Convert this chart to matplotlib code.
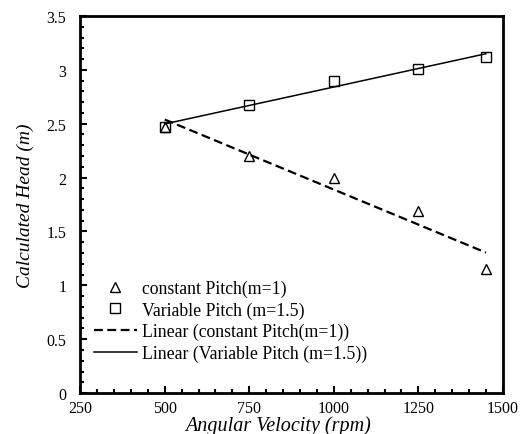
import numpy as np
import matplotlib.pyplot as plt
from matplotlib.ticker import MultipleLocator

speed = [500, 750, 1000, 1250, 1450]
head_constant = [2.47, 2.2, 2.0, 1.69, 1.15]
head_variable = [2.47, 2.67, 2.9, 3.01, 3.12]
y_ticks = [0, 0.5, 1, 1.5, 2, 2.5, 3, 3.5]
y_tick_labels = ['0', '0.5', '1', '1.5', '2', '2.5', '3', '3.5']

plt.rcParams['font.family'] = ['Liberation Serif', 'DejaVu Serif']

fig = plt.figure(figsize=(5.31, 4.35), dpi=100)
ax = fig.add_axes([0.151, 0.094, 0.796, 0.867])

ax.plot(speed, head_constant, linestyle='none', marker='^', markersize=7.5,
        markerfacecolor='none', markeredgecolor='black', markeredgewidth=1.0,
        label='constant Pitch(m=1)')
ax.plot(speed, head_variable, linestyle='none', marker='s', markersize=7.5,
        markerfacecolor='none', markeredgecolor='black', markeredgewidth=1.0,
        label='Variable Pitch (m=1.5)')

# linear trend lines
xs = np.array([speed[0], speed[-1]])
k1, b1 = np.polyfit(speed, head_constant, 1)
k2, b2 = np.polyfit(speed, head_variable, 1)
ax.plot(xs, k1 * xs + b1, color='black', linestyle=(0, (4, 2)), linewidth=1.6,
        label='Linear (constant Pitch(m=1))')
ax.plot(xs, k2 * xs + b2, color='black', linewidth=1.1,
        label='Linear (Variable Pitch (m=1.5))')

ax.set_xlim(250, 1500)
ax.set_ylim(0, 3.5)
ax.xaxis.set_major_locator(MultipleLocator(250))
ax.xaxis.set_minor_locator(MultipleLocator(50))
ax.set_yticks(y_ticks)
ax.set_yticklabels(y_tick_labels)
ax.yaxis.set_minor_locator(MultipleLocator(0.1))
ax.tick_params(which='both', direction='in', width=1.5, labelsize=11.5)
ax.tick_params(which='major', length=5)
ax.tick_params(which='minor', length=3)
ax.tick_params(axis='x', pad=5)
ax.tick_params(axis='y', pad=10)
for s in ax.spines.values():
    s.set_linewidth(2)

ax.set_xlabel('Angular Velocity (rpm)', fontsize=14.5, fontstyle='italic')
ax.xaxis.set_label_coords(0.467, -0.06)
ax.set_ylabel('Calculated Head (m)', fontsize=14, fontstyle='italic')
ax.yaxis.set_label_coords(-0.109, 0.5)

ax.legend(loc='lower left', bbox_to_anchor=(-0.005, 0.04), frameon=False,
          fontsize=12.75, handlelength=2.4, handletextpad=0.3, labelspacing=0.25)

fig.savefig('out.png', dpi=100)
